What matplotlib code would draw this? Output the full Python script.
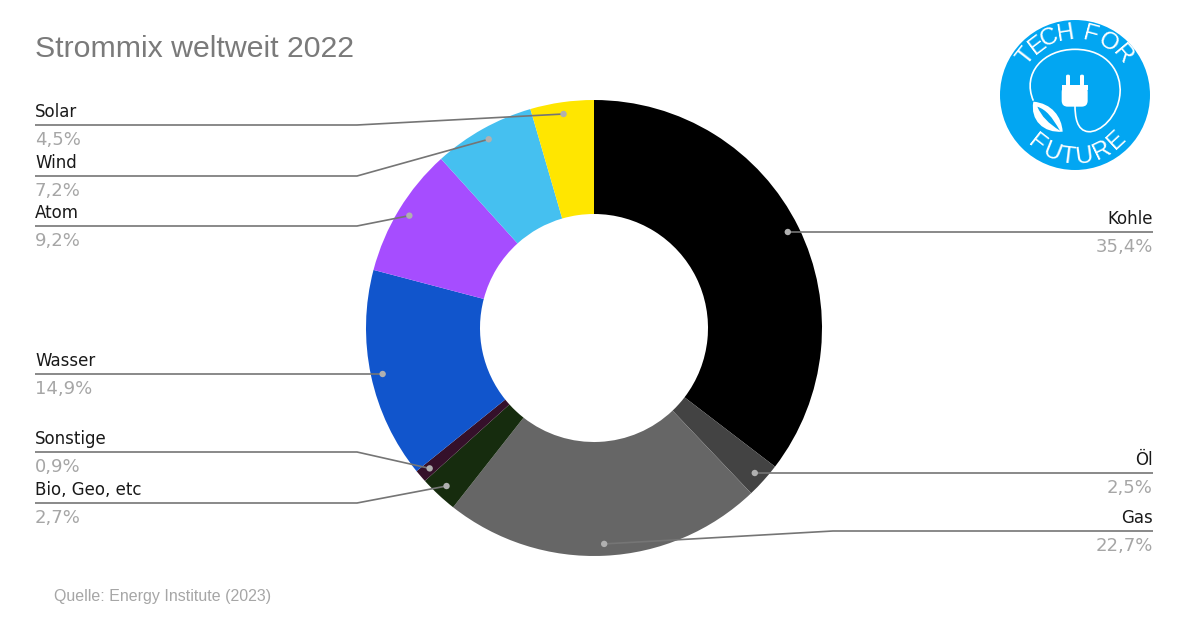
import numpy as np
import matplotlib
matplotlib.use("Agg")
import matplotlib.pyplot as plt
from matplotlib.patches import Circle, FancyBboxPatch, PathPatch, Polygon
from matplotlib.path import Path

# data
categories = ["Kohle", "Öl", "Gas", "Bio, Geo, etc", "Sonstige", "Wasser", "Atom", "Wind", "Solar"]
values = [35.4, 2.5, 22.7, 2.7, 0.9, 14.9, 9.2, 7.2, 4.5]
value_labels = ["35,4%", "2,5%", "22,7%", "2,7%", "0,9%", "14,9%", "9,2%", "7,2%", "4,5%"]
colors = ["#000000", "#434343", "#666666", "#162c0e", "#35102a", "#1155cc", "#a64dff", "#45c0f0", "#ffe600"]
title = "Strommix weltweit 2022"
source = "Quelle: Energy Institute (2023)"

# layout (pixels, y measured from the top)
W, H = 1200, 630
CX, CY, R, RING = 594, 328, 228, 114
line_y = [232, 473, 531, 503, 452, 374, 226, 176, 125]
side = ["r", "r", "r", "l", "l", "l", "l", "l", "l"]
LEFT_X, LEFT_KNEE, RIGHT_X, RIGHT_KNEE = 35, 357, 1153, 833

fig = plt.figure(figsize=(W / 100, H / 100), dpi=100)
ax = fig.add_axes([0, 0, 1, 1])
Y = lambda y: H - y

ax.pie(values, colors=colors, startangle=90, counterclock=False, center=(CX, Y(CY)), radius=R,
       wedgeprops=dict(width=RING, linewidth=0), frame=True)
ax.set_xlim(0, W)
ax.set_ylim(0, H)
ax.set_aspect("equal")
ax.axis("off")

cum = np.cumsum([0] + values)
total = sum(values)
for i, cat in enumerate(categories):
    mid = 2 * np.pi * (cum[i] + values[i] / 2) / total
    dx = CX + 0.948 * R * np.sin(mid)
    dy = CY - 0.948 * R * np.cos(mid)
    ly = line_y[i]
    straight = abs(dy - ly) <= 5
    if side[i] == "l":
        knee = dx if straight else LEFT_KNEE
        tx, ha = LEFT_X, "left"
    else:
        knee = dx if straight else RIGHT_KNEE
        tx, ha = RIGHT_X, "right"
    ex = RIGHT_X if side[i] == "r" else LEFT_X
    ax.plot([ex, knee, dx], [Y(ly), Y(ly), Y(ly if straight else dy)], color="#757575", lw=1.2,
            solid_capstyle="butt", zorder=3)
    ax.add_patch(Circle((dx, Y(ly if straight else dy)), 3.2, color="#b0b0b0", lw=0, zorder=4))
    ax.text(tx, Y(ly - 8), cat, color="#1a1a1a", ha=ha, family="DejaVu Sans", fontsize=12, va="baseline")
    ax.text(tx, Y(ly + 20), value_labels[i], color="#a6a6a6", ha=ha, family="DejaVu Sans", fontsize=13, va="baseline")

ax.text(35, Y(57), title, family="Liberation Sans", fontsize=21.8, color="#7a7a7a", va="baseline")
ax.text(54, Y(601), source, family="Liberation Sans", fontsize=11.5, color="#a6a6a6", va="baseline")

# logo
LX, LY = 1075, 95
BLUE = "#02a6f2"
ax.add_patch(Circle((LX, Y(LY)), 75, color=BLUE, lw=0, zorder=5))
def arc_text(s, angs, r, bottom=False):
    for ch, a in zip(s, angs):
        t = np.radians(a)
        x = LX + r * np.sin(t)
        y = LY - r * np.cos(t)
        rot = -a if not bottom else -(a - 180)
        ax.text(x, Y(y), ch, family="Liberation Sans", fontsize=17.5, color="white",
                ha="center", va="center", rotation=rot, rotation_mode="anchor", zorder=7)
arc_text("TECHFOR", [-52, -37, -24, -9, 15, 32, 50], 62)
arc_text("FUTURE", [180 + 38, 180 + 22, 180 + 7, 180 - 8, 180 - 26, 180 - 43], 62, bottom=True)

# cord
def zx(v): return 980 + v / 3
def zy(v): return Y(10 + v / 3)
cord = [(160, 272), (125, 190), (190, 118), (285, 118), (385, 118), (425, 190), (420, 250),
        (415, 320), (360, 368), (325, 365), (290, 362), (285, 320), (285, 285)]
codes = [Path.MOVETO] + [Path.CURVE4] * 12
ax.add_patch(PathPatch(Path([(zx(a), zy(b)) for a, b in cord], codes), fc="none", ec="white", lw=1.2, zorder=6))
# plug
ax.add_patch(FancyBboxPatch((zx(245), zy(290)), 78 / 3, 62 / 3, boxstyle="round,pad=0,rounding_size=6",
                            fc="white", ec="none", zorder=6))
ax.add_patch(Polygon([(zx(245), zy(240)), (zx(323), zy(240)), (zx(323), zy(226)), (zx(245), zy(226))], fc="white", ec="none", zorder=6))
for px in (264, 306):
    ax.add_patch(FancyBboxPatch((zx(px - 6), zy(228)), 12 / 3, 34 / 3, boxstyle="round,pad=0,rounding_size=1.5",
                                fc="white", ec="none", zorder=6))
# leaf
leaf = [(160, 275), (150, 330), (190, 370), (248, 365), (245, 320), (215, 280), (160, 275)]
lcodes = [Path.MOVETO, Path.CURVE4, Path.CURVE4, Path.CURVE4, Path.CURVE4, Path.CURVE4, Path.CURVE4]
ax.add_patch(PathPatch(Path([(zx(a), zy(b)) for a, b in leaf], lcodes), fc="white", ec="none", zorder=6))
vein = [(172, 290), (185, 320), (205, 340), (240, 362), (215, 320), (200, 300), (172, 290)]
ax.add_patch(PathPatch(Path([(zx(a), zy(b)) for a, b in vein], lcodes), fc=BLUE, ec="none", zorder=7))

fig.savefig("out.png", dpi=100, facecolor="white")
